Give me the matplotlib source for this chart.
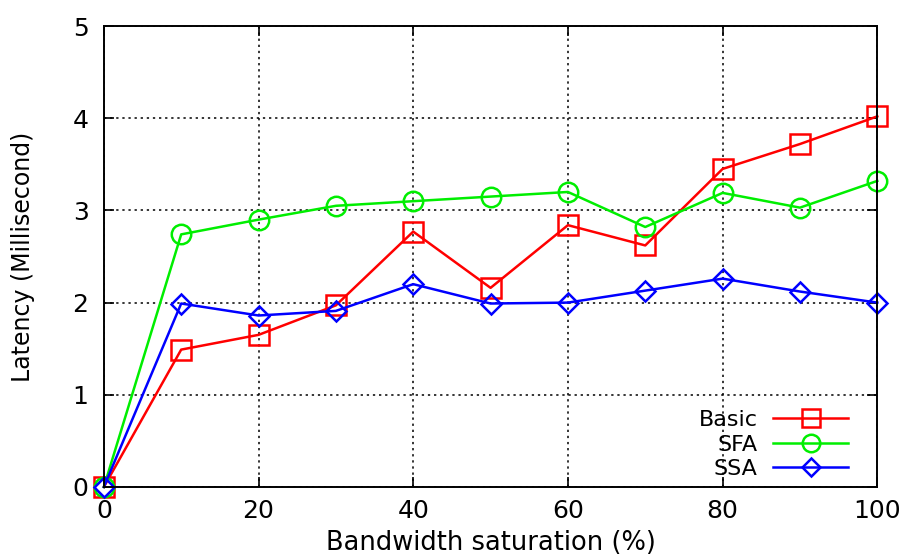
import numpy as np
import matplotlib
matplotlib.use('Agg')
import matplotlib.pyplot as plt

saturation = [0, 10, 20, 30, 40, 50, 60, 70, 80, 90, 100]
basic = [0, 1.49, 1.65, 1.97, 2.77, 2.16, 2.84, 2.62, 3.45, 3.72, 4.02]
sfa = [0, 2.74, 2.90, 3.05, 3.10, 3.15, 3.20, 2.82, 3.19, 3.03, 3.32]
ssa = [0, 1.99, 1.86, 1.91, 2.20, 1.99, 2.00, 2.13, 2.26, 2.12, 2.00]

plt.rcParams['font.family'] = 'DejaVu Sans'

fig = plt.figure(figsize=(9.11, 5.54), dpi=100)
ax = fig.add_axes([0.114, 0.121, 0.849, 0.832])

ax.plot(saturation, basic, color='#ff0000', lw=1.8, marker='s', ms=14,
        mfc='none', mew=1.8, label='Basic', clip_on=False)
ax.plot(saturation, sfa, color='#00ee00', lw=1.8, marker='o', ms=14,
        mfc='none', mew=1.8, label='SFA', clip_on=False)
ax.plot(saturation, ssa, color='#0000ff', lw=1.8, marker='D', ms=10,
        mfc='none', mew=1.8, label='SSA', clip_on=False)

ax.set_xlim(0, 100)
ax.set_ylim(0, 5)
ax.set_xticks([0, 20, 40, 60, 80, 100])
ax.set_yticks([0, 1, 2, 3, 4, 5])
ax.tick_params(direction='in', length=7, width=1.2, top=True, right=True,
               labelsize=18)
ax.tick_params(axis='y', pad=11)
ax.tick_params(axis='x', pad=9)
ax.grid(True, color='black', linestyle=(0, (1.5, 2.5)), linewidth=1.1)
for s in ax.spines.values():
    s.set_linewidth(1.4)

ax.set_xlabel('Bandwidth saturation (%)', fontsize=18.5)
ax.set_ylabel('Latency (Millisecond)', fontsize=17)
ax.xaxis.set_label_coords(0.5, -0.093)
ax.yaxis.set_label_coords(-0.089, 0.5)

leg = ax.legend(loc='lower right', bbox_to_anchor=(0.9625, 0.017),
                frameon=False, markerfirst=False, fontsize=16,
                handlelength=3.4, handletextpad=0.68, labelspacing=0.2,
                markerscale=0.9, borderpad=0, borderaxespad=0)

fig.savefig('out.png', dpi=100)
